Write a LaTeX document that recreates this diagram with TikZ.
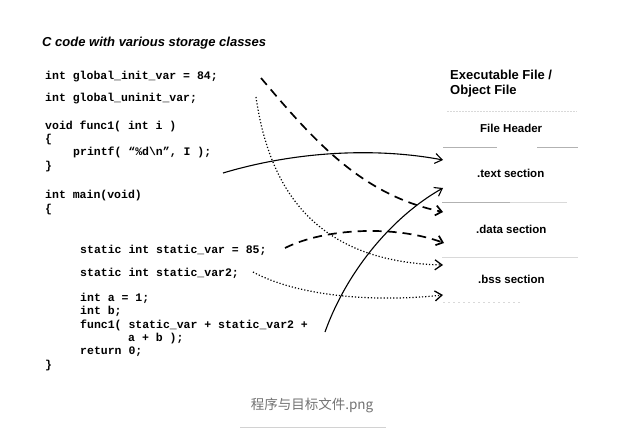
\documentclass[tikz,border=0pt]{standalone}
\usepackage{fontspec}
\setmainfont{Liberation Sans}
\newfontfamily\codefont{Liberation Mono}
\newfontfamily\cjkfont{Noto Sans CJK SC}
\usetikzlibrary{arrows.meta}
\begin{document}
\begin{tikzpicture}[x=1pt,y=-1pt,
 code/.style={anchor=base west, inner sep=0pt, font=\codefont\bfseries\fontsize{11.5}{13}\selectfont},
 titletext/.style={anchor=base west, inner sep=0pt, font=\bfseries\itshape\fontsize{13}{15}\selectfont},
 headtext/.style={anchor=base west, inner sep=0pt, font=\bfseries\fontsize{13}{15}\selectfont},
 secttext/.style={anchor=base west, inner sep=0pt, font=\bfseries\fontsize{11.5}{14}\selectfont},
 rulea/.style={gray!60, line width=0.6pt},
 ruleb/.style={gray!30, line width=0.6pt},
 solidarrow/.style={line width=1.1pt, -{Straight Barb[length=7pt,width=10pt]}},
 dasharrow/.style={line width=1.7pt, dash pattern=on 9pt off 6pt, -{Straight Barb[length=6pt,width=10pt]}},
 dotarrow/.style={line width=1.2pt, dash pattern=on 1.2pt off 2pt, -{Straight Barb[length=7pt,width=10pt,line width=1.3pt]}},
]
\useasboundingbox (0,0) rectangle (632,433);
\fill[white] (0,0) rectangle (632,433);

% title
\node[titletext] (title) at (42,47) {C code with various storage classes};

% code
\node[code] (c1) at (45,80) {int global\_init\_var = 84;};
\node[code] (c2) at (45,102) {int global\_uninit\_var;};
\node[code] (c3) at (45,130) {void func1( int i )};
\node[code] (c4) at (45,143) {\{};
\node[code] (c5) at (73,156) {printf( “\%d\textbackslash n”, I );};
\node[code] (c6) at (45,170) {\}};
\node[code] (c7) at (45,198) {int main(void)};
\node[code] (c8) at (45,212) {\{};
\node[code] (c9) at (80,253) {static int static\_var = 85;};
\node[code] (c10) at (80,276) {static int static\_var2;};
\node[code] (c11) at (80,301) {int a = 1;};
\node[code] (c12) at (80,314) {int b;};
\node[code] (c13) at (80,328) {func1( static\_var + static\_var2 +};
\node[code] (c14) at (128,341) {a + b );};
\node[code] (c15) at (80,354) {return 0;};
\node[code] (c16) at (45,368) {\}};

% object file
\node[headtext] (exe1) at (450,80) {Executable File /};
\node[headtext] (exe2) at (450,95) {Object File};
\node[secttext] (hdr) at (480,133) {File Header};
\node[secttext] (text) at (477,178) {.text section};
\node[secttext] (data) at (476,233) {.data section};
\node[secttext] (bss) at (478,283) {.bss section};

% section rules
\draw[ruleb, dash pattern=on 2pt off 1pt] (447,111) -- (577,111);
\draw[rulea] (443,147) -- (497,147);
\draw[rulea] (537,147) -- (578,147);
\draw[rulea] (442,202) -- (510,202);
\draw[ruleb] (510,202) -- (567,202);
\draw[ruleb] (442,257) -- (578,257);
\draw[ruleb, dash pattern=on 2pt off 3pt] (443,302) -- (520,302);

% arrow ends
\coordinate (s1) at (223,173); \coordinate (e1) at (443,160);
\coordinate (s2) at (261,78);  \coordinate (e2) at (443,212);
\coordinate (s3) at (256,97);  \coordinate (e3) at (443,265);
\coordinate (s4) at (285,248); \coordinate (e4) at (444,243);
\coordinate (s5) at (253,272); \coordinate (e5) at (443,295);
\coordinate (s6) at (325,332); \coordinate (e6) at (443,188);

\draw[solidarrow] (s1) .. controls (300,150) and (380,148) .. (e1);
\draw[dasharrow] (s2) .. controls (315,142) and (362,195) .. (e2);
\draw[dotarrow] (s3) .. controls (270,195) and (320,262) .. (e3);
\draw[dasharrow] (s4) .. controls (325,228) and (395,225) .. (e4);
\draw[dotarrow] (s5) .. controls (295,295) and (370,303) .. (e5);
\draw[solidarrow] (s6) .. controls (348,268) and (395,215) .. (e6);

% caption
\node[font=\cjkfont\fontsize{13.5}{16}\selectfont, text=black!55, inner sep=0pt] (cap) at (312,405) {程序与目标文件.png};
\draw[gray!35, line width=0.8pt] (240,427) -- (386,427);
\end{tikzpicture}
\end{document}
